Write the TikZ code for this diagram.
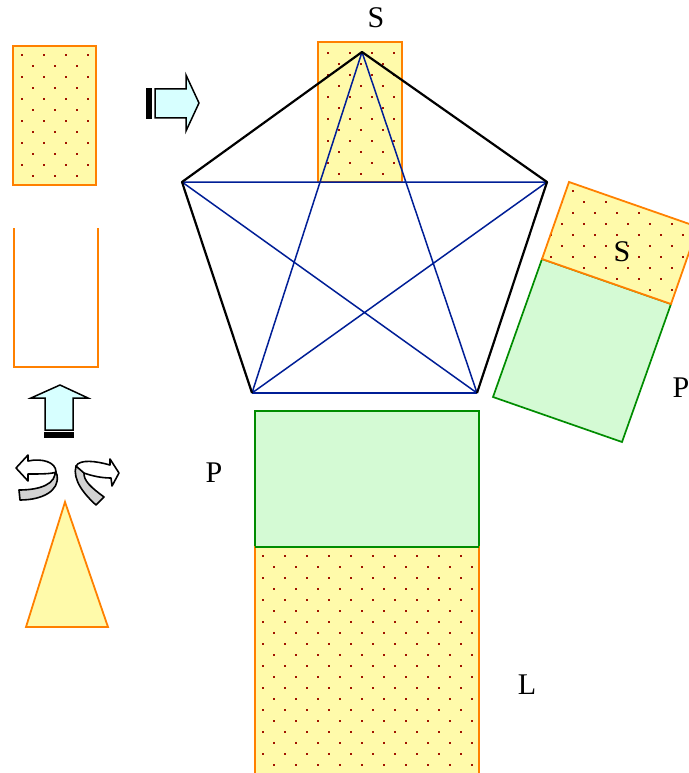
\documentclass[tikz,border=0pt]{standalone}
\usepackage{fontspec}
\setmainfont{Liberation Serif}
\usetikzlibrary{calc}
\definecolor{sandyellow}{RGB}{255,250,170}
\definecolor{edgeorange}{RGB}{255,128,0}
\definecolor{dotred}{RGB}{160,20,0}
\definecolor{paleGreen}{RGB}{212,250,212}
\definecolor{edgegreen}{RGB}{0,140,0}
\definecolor{starblue}{RGB}{0,30,150}
\definecolor{arrowcyan}{RGB}{215,255,255}
\definecolor{ribbongray}{RGB}{210,210,210}

% staggered dot pattern: first dot x, first dot y, last column, last row
\newcommand{\dotgrid}[4]{%
  \foreach \i in {0,...,#4}{\foreach \j in {0,...,#3}{
    \fill[dotred] (#1+22*\j-1.3,#2+22*\i-1.3) rectangle ++(2.6,2.6);
    \fill[dotred] (#1+22*\j+9.7,#2+22*\i+9.7) rectangle ++(2.6,2.6);}}}

\begin{document}
\begin{tikzpicture}[
  x=1pt, y=-1pt,
  sand/.style={fill=sandyellow},
  sandedge/.style={draw=edgeorange, line width=1.8pt},
  greenbox/.style={fill=paleGreen, draw=edgegreen, line width=1.7pt},
  outline/.style={draw=black, line width=2.2pt},
  star/.style={draw=starblue, line width=1.5pt},
  blockarrow/.style={fill=arrowcyan, draw=black, line width=1.5pt},
  curlarrow/.style={draw=black, line width=1.6pt, line join=round},
  letter/.style={inner sep=0pt, font=\fontsize{30}{33}\selectfont}
]
\useasboundingbox (0,0) rectangle (688,773);

% left column
\fill[sand] (13,46) rectangle (96,185);
\begin{scope}
  \clip (13,46) rectangle (96,185);
  \dotgrid{22}{55}{3}{6}
\end{scope}
\draw[sandedge] (13,46) rectangle (96,185);

\draw[sandedge] (14,228) -- (14,367) -- (98,367) -- (98,228);

\draw[blockarrow] (60,385) -- (88,398) -- (73,398) -- (73,430)
  -- (45,430) -- (45,398) -- (31,398) -- cycle;
\fill[black] (44,432) rectangle (74,438);

\filldraw[curlarrow, fill=ribbongray] (55,470) .. controls (57,484) and (40,490)
  .. (19,490) -- (20,500) .. controls (42,500) and (60,491) .. (57,475) -- cycle;
\filldraw[curlarrow, fill=white] (16,468) -- (28,455) -- (28,461)
  .. controls (42,458) and (56,462) .. (56,472)
  .. controls (52,474) and (40,474) .. (28,474) -- (28,481) -- cycle;

\filldraw[curlarrow, fill=ribbongray] (76,466) .. controls (72,480) and (85,495)
  .. (96,505) -- (104,497) .. controls (92,488) and (83,481) .. (84,472) -- cycle;
\filldraw[curlarrow, fill=white] (119,473) -- (110,459) -- (110,465)
  .. controls (96,461) and (80,459) .. (76,466) -- (84,473)
  .. controls (92,476) and (102,478) .. (111,478) -- (112,486) -- cycle;

\filldraw[sand, draw=edgeorange, line width=1.8pt] (65,502) -- (108,627)
  -- (26,627) -- cycle;

\draw[blockarrow] (199,103) -- (186,75) -- (186,89) -- (155,89)
  -- (155,118) -- (186,118) -- (186,131) -- cycle;
\fill[black] (146,88) rectangle (152,119);

% pentagon with its square on top
\fill[sand] (318,42) rectangle (402,182);
\begin{scope}
  \clip (318,42) rectangle (402,182);
  \dotgrid{328}{53}{3}{6}
\end{scope}
\draw[sandedge] (318,42) rectangle (402,182);

\coordinate (apex) at (362,52);
\coordinate (wl) at (182,182);
\coordinate (wr) at (547,182);
\coordinate (bl) at (252,393);
\coordinate (br) at (477,393);
\draw[star] (wl) -- (wr) (apex) -- (bl) (apex) -- (br) (wl) -- (br) (wr) -- (bl);
\draw[star, line width=2.4pt] (bl) -- (br);
\draw[outline, line join=round] (bl) -- (wl) -- (apex) -- (wr) -- (br);

% tilted pair on the right
\filldraw[greenbox] (542,259) -- (671,304) -- (622,442) -- (493,397) -- cycle;
\fill[sand] (569,182) -- (698,227) -- (671,304) -- (542,259) -- cycle;
\begin{scope}
  \clip (569,182) -- (698,227) -- (671,304) -- (542,259) -- cycle;
  \dotgrid{551}{169}{7}{7}
\end{scope}
\draw[sandedge] (569,182) -- (698,227) -- (671,304) -- (542,259) -- cycle;

% pair below
\filldraw[greenbox] (255,411) rectangle (479,547);
\fill[sand] (255,547) rectangle (479,775);
\begin{scope}
  \clip (255,547) rectangle (479,775);
  \dotgrid{263}{556}{9}{10}
\end{scope}
\draw[sandedge] (255,775) -- (255,547) -- (479,547) -- (479,775);
\draw[edgegreen, line width=1.7pt] (255,547) -- (479,547);

\node[letter] (topS) at (376,18) {S};
\node[letter] (sideS) at (622,252) {S};
\node[letter] (sideP) at (681,388) {P};
\node[letter] (lowP) at (214,473) {P};
\node[letter] (lowL) at (527,685) {L};
\end{tikzpicture}
\end{document}
